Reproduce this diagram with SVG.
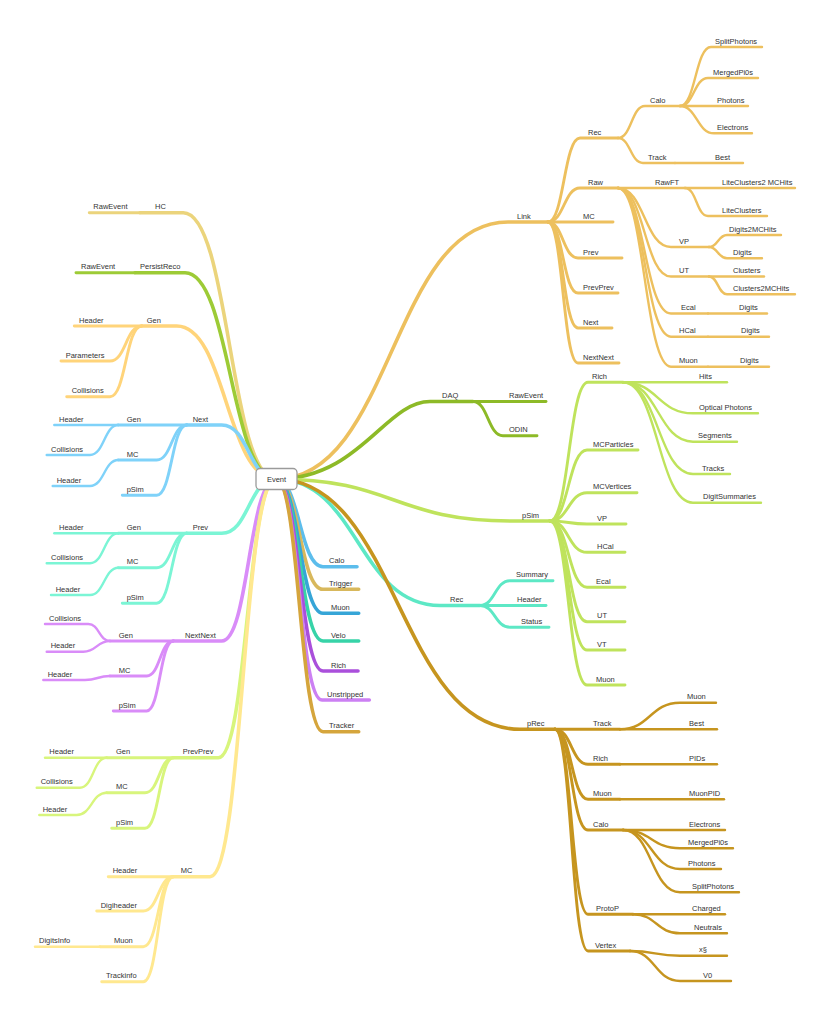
<svg xmlns="http://www.w3.org/2000/svg" width="830" height="1016" viewBox="0 0 830 1016">
<style>
text{font-family:"Liberation Sans",Arial,sans-serif;font-size:7.5px;fill:#333}
#connectors path{fill:none;stroke-linecap:round;stroke-linejoin:round}
.w1{stroke-width:3.6}.w2{stroke-width:2.9}.w3{stroke-width:2.4}
.link{stroke:#EDC05E}.daq{stroke:#8DBA27}.psim{stroke:#BFE35C}.rec{stroke:#5DE8C5}.prec{stroke:#C6951F}
.calo{stroke:#5CBDEC}.trig{stroke:#D8B85C}.muon{stroke:#36A5D7}.velo{stroke:#37D3A8}.rich{stroke:#AA4FDB}.unst{stroke:#CC80F3}.trk{stroke:#D5A53C}
.hc{stroke:#EBD47C}.pr{stroke:#9DCB36}.gen{stroke:#FFD47A}.next{stroke:#7FD2F9}.prev{stroke:#7BF5D5}.nn{stroke:#D98CF8}.pp{stroke:#D8F57C}.mc{stroke:#FFE88F}
</style>
<rect width="830" height="1016" fill="#fff"/>
<g id="connectors">
<g class="link">
<path class="w1" d="M276 479 C392 479 392 222 508 222 H548"/>
<path class="w2" d="M548 222 C564 222 564 138 580 138 H618"/>
<path class="w2" d="M548 222 C564 222 564 188 580 188 H618"/>
<path class="w2" d="M548 222 H613"/>
<path class="w2" d="M548 222 C563 222 563 258 578 258 H622"/>
<path class="w2" d="M548 222 C563 222 563 293 578 293 H618"/>
<path class="w2" d="M548 222 C563 222 563 328 578 328 H612"/>
<path class="w2" d="M548 222 C563 222 563 363 578 363 H619"/>
<path class="w3" d="M618 138 C631.5 138 631.5 106 645 106 H680"/>
<path class="w3" d="M618 138 C630.5 138 630.5 163 643 163 H675"/>
<path class="w3" d="M680 106 C695.5 106 695.5 47 711 47 H762"/>
<path class="w3" d="M680 106 C694 106 694 78 708 78 H758"/>
<path class="w3" d="M680 106 H748"/>
<path class="w3" d="M680 106 C697 106 697 133.3 714 133.3 H752"/>
<path class="w3" d="M675 163 H743"/>
<path class="w3" d="M618 188 H685"/>
<path class="w3" d="M685 188 H795"/>
<path class="w3" d="M685 188 C696.5 188 696.5 216 708 216 H767"/>
<path class="w3" d="M618 188 C644.5 188 644.5 247 671 247 H709"/>
<path class="w3" d="M709 247 C718 247 718 235 727 235 H781"/>
<path class="w3" d="M709 247 C718 247 718 258.3 727 258.3 H762"/>
<path class="w3" d="M618 188 C644.5 188 644.5 276.5 671 276.5 H709"/>
<path class="w3" d="M709 276.5 H764"/>
<path class="w3" d="M709 276.5 C718 276.5 718 294.3 727 294.3 H795"/>
<path class="w3" d="M618 188 C644.5 188 644.5 313.5 671 313.5 H708"/>
<path class="w3" d="M708 313.5 H767"/>
<path class="w3" d="M618 188 C644.5 188 644.5 336.7 671 336.7 H708"/>
<path class="w3" d="M708 336.7 H769"/>
<path class="w3" d="M618 188 C644.5 188 644.5 366.7 671 366.7 H708"/>
<path class="w3" d="M708 366.7 H769"/>
</g>
<g class="daq">
<path class="w1" d="M276 479 C360 479 385 401.5 430 401.5 H473"/>
<path class="w2" d="M473 401.5 H546"/>
<path class="w2" d="M473 401.5 C488 401.5 488 435.7 503 435.7 H537"/>
</g>
<g class="psim">
<path class="w1" d="M276 479 C394 479 394 521 512 521 H550"/>
<path class="w2" d="M550 521 C569 521 569 382.3 588 382.3 H623"/>
<path class="w2" d="M550 521 C568.5 521 568.5 450 587 450 H638"/>
<path class="w2" d="M550 521 C568.5 521 568.5 492.7 587 492.7 H637"/>
<path class="w2" d="M550 521 C568.5 521 568.5 524 587 524 H626"/>
<path class="w2" d="M550 521 C568.5 521 568.5 552.3 587 552.3 H625"/>
<path class="w2" d="M550 521 C568.5 521 568.5 587.3 587 587.3 H625"/>
<path class="w2" d="M550 521 C568.5 521 568.5 621.7 587 621.7 H625"/>
<path class="w2" d="M550 521 C568.5 521 568.5 650 587 650 H625"/>
<path class="w2" d="M550 521 C568.5 521 568.5 685 587 685 H625"/>
<path class="w3" d="M623 382.3 H727"/>
<path class="w3" d="M623 382.3 C658 382.3 658 413.3 693 413.3 H758"/>
<path class="w3" d="M623 382.3 C658 382.3 658 441.7 693 441.7 H737"/>
<path class="w3" d="M623 382.3 C658 382.3 658 474 693 474 H730"/>
<path class="w3" d="M623 382.3 C658 382.3 658 502.7 693 502.7 H761"/>
</g>
<g class="rec">
<path class="w1" d="M276 479 C358 479 358 605.5 440 605.5 H480"/>
<path class="w2" d="M480 605.5 C495 605.5 495 580.7 510 580.7 H553"/>
<path class="w2" d="M480 605.5 H546"/>
<path class="w2" d="M480 605.5 C495 605.5 495 627.3 510 627.3 H549"/>
</g>
<g class="prec">
<path class="w1" d="M276 479 C398 479 398 729.3 520 729.3 H555"/>
<path class="w2" d="M555 729.3 H620"/>
<path class="w2" d="M555 729.3 C571.5 729.3 571.5 764.3 588 764.3 H620"/>
<path class="w2" d="M555 729.3 C571.5 729.3 571.5 799.3 588 799.3 H620"/>
<path class="w2" d="M555 729.3 C571.5 729.3 571.5 830 588 830 H623"/>
<path class="w2" d="M555 729.3 C571.5 729.3 571.5 914.3 588 914.3 H633"/>
<path class="w2" d="M555 729.3 C571.5 729.3 571.5 951 588 951 H630"/>
<path class="w3" d="M620 729.3 C650 729.3 650 702.7 680 702.7 H716"/>
<path class="w3" d="M620 729.3 H717"/>
<path class="w3" d="M620 764.3 H717"/>
<path class="w3" d="M620 799.3 H724"/>
<path class="w3" d="M623 830 H725"/>
<path class="w3" d="M623 830 C651.5 830 651.5 848.3 680 848.3 H733"/>
<path class="w3" d="M623 830 C651.5 830 651.5 869 680 869 H721"/>
<path class="w3" d="M623 830 C651.5 830 651.5 892.3 680 892.3 H739"/>
<path class="w3" d="M633 914.3 H725"/>
<path class="w3" d="M633 914.3 C656.5 914.3 656.5 933.3 680 933.3 H727"/>
<path class="w3" d="M630 951 C655 951 655 955.7 680 955.7 H727"/>
<path class="w3" d="M630 951 C655 951 655 981 680 981 H731"/>
</g>
<path class="w1 calo" d="M276 479 C299.5 479 299.5 566.7 323 566.7 H357"/>
<path class="w1 trig" d="M276 479 C299.5 479 299.5 589.3 323 589.3 H358.7"/>
<path class="w1 muon" d="M276 479 C299.5 479 299.5 613.3 323 613.3 H358.7"/>
<path class="w1 velo" d="M276 479 C299.5 479 299.5 641 323 641 H358.7"/>
<path class="w1 rich" d="M276 479 C299.5 479 299.5 671 323 671 H358"/>
<path class="w1 unst" d="M276 479 C299 479 299 700 322 700 H369.3"/>
<path class="w1 trk" d="M276 479 C299.5 479 299.5 731.7 323 731.7 H358.7"/>
<g class="hc">
<path class="w1" d="M276 479 C229.7 479 229.7 212.7 183.3 212.7 H140"/>
<path class="w2" d="M140 212.7 H89.3"/>
</g>
<g class="pr">
<path class="w1" d="M276 479 C230.5 479 230.5 272.7 185 272.7 H135"/>
<path class="w2" d="M135 272.7 H76"/>
</g>
<g class="gen">
<path class="w1" d="M276 479 C226.3 479 226.3 326 176.7 326 H141.7"/>
<path class="w2" d="M141.7 326 H74.3"/>
<path class="w2" d="M141.7 326 C125.8 326 125.8 361 110 361 H61"/>
<path class="w2" d="M141.7 326 C125.8 326 125.8 396.7 110 396.7 H66.7"/>
</g>
<g class="next">
<path class="w1" d="M276 479 C248.8 479 248.8 425 221.7 425 H186.7"/>
<path class="w2" d="M186.7 425 H118.3"/>
<path class="w3" d="M118.3 425 H54.3"/>
<path class="w3" d="M118.3 425 C104.2 425 104.2 455 90 455 H46.7"/>
<path class="w2" d="M186.7 425 C171.7 425 171.7 460 156.7 460 H118.3"/>
<path class="w3" d="M118.3 460 C104.2 460 104.2 486 90 486 H52.7"/>
<path class="w2" d="M186.7 425 C171.7 425 171.7 495.3 156.7 495.3 H122.3"/>
</g>
<g class="prev">
<path class="w1" d="M276 479 C248.8 479 248.8 533.3 221.7 533.3 H186.7"/>
<path class="w2" d="M186.7 533.3 H118.3"/>
<path class="w3" d="M118.3 533.3 H54.3"/>
<path class="w3" d="M118.3 533.3 C104.2 533.3 104.2 563.3 90 563.3 H46.7"/>
<path class="w2" d="M186.7 533.3 C171.7 533.3 171.7 567.7 156.7 567.7 H118.3"/>
<path class="w3" d="M118.3 567.7 C104.2 567.7 104.2 595 90 595 H51"/>
<path class="w2" d="M186.7 533.3 C171.7 533.3 171.7 603.3 156.7 603.3 H122.3"/>
</g>
<g class="nn">
<path class="w1" d="M276 479 C248.8 479 248.8 641 221.7 641 H173.3"/>
<path class="w2" d="M173.3 641 H110"/>
<path class="w3" d="M110 641 C99.2 641 99.2 624 88.3 624 H45"/>
<path class="w3" d="M110 641 C96.7 641 96.7 651.7 83.3 651.7 H46.7"/>
<path class="w2" d="M173.3 641 C160 641 160 676 146.7 676 H110"/>
<path class="w3" d="M110 676 C97.5 676 97.5 680 85 680 H43.3"/>
<path class="w2" d="M173.3 641 C160 641 160 711 146.7 711 H113.3"/>
</g>
<g class="pp">
<path class="w1" d="M276 479 C247.2 479 247.2 757.7 218.3 757.7 H173.3"/>
<path class="w2" d="M173.3 757.7 H106.7"/>
<path class="w3" d="M106.7 757.7 H45"/>
<path class="w3" d="M106.7 757.7 C93.3 757.7 93.3 787.7 80 787.7 H36.7"/>
<path class="w2" d="M173.3 757.7 C159.2 757.7 159.2 792.7 145 792.7 H106.7"/>
<path class="w3" d="M106.7 792.7 C91.7 792.7 91.7 815 76.7 815 H39.3"/>
<path class="w2" d="M173.3 757.7 C159.2 757.7 159.2 828.3 145 828.3 H111.7"/>
</g>
<g class="mc">
<path class="w1" d="M276 479 C243 479 243 876.7 210 876.7 H173.3"/>
<path class="w2" d="M173.3 876.7 H108.3"/>
<path class="w2" d="M173.3 876.7 C158.3 876.7 158.3 911 143.3 911 H96.7"/>
<path class="w2" d="M173.3 876.7 C158.3 876.7 158.3 946.7 143.3 946.7 H100"/>
<path class="w3" d="M100 946.7 H35"/>
<path class="w2" d="M173.3 876.7 C158.3 876.7 158.3 981.7 143.3 981.7 H101.7"/>
</g>
</g>
<g id="event">
<rect x="256" y="468.5" width="41" height="21" rx="4" fill="#fff" stroke="#9a9a9a" stroke-width="1.3"/>
<text x="276.5" y="482" text-anchor="middle">Event</text>
</g>
<g id="n-link"><text x="517" y="218.5">Link</text></g>
<g id="n-link-rec"><text x="588" y="134.8">Rec</text></g>
<g id="n-link-rec-calo"><text x="650" y="102.5">Calo</text></g>
<g id="n-lrc-splitphotons"><text x="715" y="43.5">SplitPhotons</text></g>
<g id="n-lrc-mergedpi0s"><text x="713" y="74.5">MergedPi0s</text></g>
<g id="n-lrc-photons"><text x="717" y="102.5">Photons</text></g>
<g id="n-lrc-electrons"><text x="717" y="129.8">Electrons</text></g>
<g id="n-link-rec-track"><text x="648" y="159.5">Track</text></g>
<g id="n-lrt-best"><text x="715" y="159.5">Best</text></g>
<g id="n-link-raw"><text x="588" y="184.5">Raw</text></g>
<g id="n-raw-rawft"><text x="655" y="184.5">RawFT</text></g>
<g id="n-rawft-lc2mc"><text x="722" y="184.5">LiteClusters2 MCHits</text></g>
<g id="n-rawft-lc"><text x="722" y="212.5">LiteClusters</text></g>
<g id="n-raw-vp"><text x="679" y="243.5">VP</text></g>
<g id="n-vp-d2mc"><text x="729" y="231.5">Digits2MCHits</text></g>
<g id="n-vp-digits"><text x="733" y="254.8">Digits</text></g>
<g id="n-raw-ut"><text x="679" y="273">UT</text></g>
<g id="n-ut-clusters"><text x="733" y="272.5">Clusters</text></g>
<g id="n-ut-c2mc"><text x="733" y="290.8">Clusters2MCHits</text></g>
<g id="n-raw-ecal"><text x="681" y="310">Ecal</text></g>
<g id="n-ecal-digits"><text x="739" y="310">Digits</text></g>
<g id="n-raw-hcal"><text x="679" y="333.2">HCal</text></g>
<g id="n-hcal-digits"><text x="741" y="333.2">Digits</text></g>
<g id="n-raw-muon"><text x="679" y="363.2">Muon</text></g>
<g id="n-muon-digits"><text x="740" y="363.2">Digits</text></g>
<g id="n-link-mc"><text x="583" y="218.5">MC</text></g>
<g id="n-link-prev"><text x="583" y="254.5">Prev</text></g>
<g id="n-link-prevprev"><text x="583" y="289.5">PrevPrev</text></g>
<g id="n-link-next"><text x="583" y="324.5">Next</text></g>
<g id="n-link-nextnext"><text x="583" y="359.5">NextNext</text></g>
<g id="n-daq"><text x="442" y="398">DAQ</text></g>
<g id="n-daq-rawevent"><text x="509" y="397.5">RawEvent</text></g>
<g id="n-daq-odin"><text x="509" y="432.2">ODIN</text></g>
<g id="n-psim"><text x="522" y="517.5">pSim</text></g>
<g id="n-psim-rich"><text x="592" y="378.8">Rich</text></g>
<g id="n-rich-hits"><text x="699" y="378.8">Hits</text></g>
<g id="n-rich-optical"><text x="699" y="409.8">Optical Photons</text></g>
<g id="n-rich-segments"><text x="698" y="438.2">Segments</text></g>
<g id="n-rich-tracks"><text x="702" y="470.5">Tracks</text></g>
<g id="n-rich-digitsum"><text x="703" y="499.2">DigitSummaries</text></g>
<g id="n-psim-mcparticles"><text x="593" y="446.5">MCParticles</text></g>
<g id="n-psim-mcvertices"><text x="593" y="489.2">MCVertices</text></g>
<g id="n-psim-vp"><text x="597" y="520.5">VP</text></g>
<g id="n-psim-hcal"><text x="597" y="548.8">HCal</text></g>
<g id="n-psim-ecal"><text x="596" y="583.8">Ecal</text></g>
<g id="n-psim-ut"><text x="597" y="618.2">UT</text></g>
<g id="n-psim-vt"><text x="597" y="646.5">VT</text></g>
<g id="n-psim-muon"><text x="596" y="681.5">Muon</text></g>
<g id="n-rec"><text x="450" y="602">Rec</text></g>
<g id="n-rec-summary"><text x="516" y="577.2">Summary</text></g>
<g id="n-rec-header"><text x="517" y="602">Header</text></g>
<g id="n-rec-status"><text x="521" y="623.8">Status</text></g>
<g id="n-prec"><text x="527" y="725.8">pRec</text></g>
<g id="n-prec-track"><text x="593" y="725.8">Track</text></g>
<g id="n-pt-muon"><text x="687" y="699.2">Muon</text></g>
<g id="n-pt-best"><text x="689" y="725.8">Best</text></g>
<g id="n-prec-rich"><text x="593" y="760.8">Rich</text></g>
<g id="n-pr-pids"><text x="689" y="760.8">PIDs</text></g>
<g id="n-prec-muon"><text x="593" y="795.8">Muon</text></g>
<g id="n-pm-muonpid"><text x="689" y="795.8">MuonPID</text></g>
<g id="n-prec-calo"><text x="593" y="826.5">Calo</text></g>
<g id="n-pc-electrons"><text x="689" y="826.5">Electrons</text></g>
<g id="n-pc-mergedpi0s"><text x="688" y="844.8">MergedPi0s</text></g>
<g id="n-pc-photons"><text x="688" y="865.5">Photons</text></g>
<g id="n-pc-splitphotons"><text x="692" y="888.8">SplitPhotons</text></g>
<g id="n-prec-protop"><text x="596" y="910.8">ProtoP</text></g>
<g id="n-pp-charged"><text x="692" y="910.8">Charged</text></g>
<g id="n-pp-neutrals"><text x="694" y="929.8">Neutrals</text></g>
<g id="n-prec-vertex"><text x="595" y="947.5">Vertex</text></g>
<g id="n-pv-xs"><text x="699" y="952.2">x§</text></g>
<g id="n-pv-v0"><text x="703" y="977.5">V0</text></g>
<g id="n-calo"><text x="329" y="563.2">Calo</text></g>
<g id="n-trigger"><text x="329" y="585.8">Trigger</text></g>
<g id="n-muon"><text x="331" y="609.8">Muon</text></g>
<g id="n-velo"><text x="331" y="637.5">Velo</text></g>
<g id="n-rich"><text x="331" y="667.5">Rich</text></g>
<g id="n-unstripped"><text x="327" y="696.5">Unstripped</text></g>
<g id="n-tracker"><text x="329" y="728.2">Tracker</text></g>
<g id="n-hc"><text x="155" y="209.2">HC</text></g>
<g id="n-hc-rawevent"><text x="93.3" y="209.2">RawEvent</text></g>
<g id="n-persistreco"><text x="140" y="269.2">PersistReco</text></g>
<g id="n-pr-rawevent"><text x="81" y="269.2">RawEvent</text></g>
<g id="n-gen"><text x="146.7" y="322.5">Gen</text></g>
<g id="n-gen-header"><text x="79" y="322.5">Header</text></g>
<g id="n-gen-parameters"><text x="65.7" y="357.5">Parameters</text></g>
<g id="n-gen-collisions"><text x="71.7" y="393.2">Collisions</text></g>
<g id="n-next"><text x="192.7" y="421.5">Next</text></g>
<g id="n-next-gen"><text x="126.7" y="421.5">Gen</text></g>
<g id="n-ng-header"><text x="59" y="421.5">Header</text></g>
<g id="n-ng-collisions"><text x="51" y="451.5">Collisions</text></g>
<g id="n-next-mc"><text x="126.7" y="456.5">MC</text></g>
<g id="n-nm-header"><text x="56.7" y="482.5">Header</text></g>
<g id="n-next-psim"><text x="126.7" y="491.8">pSim</text></g>
<g id="n-prev"><text x="192.7" y="529.8">Prev</text></g>
<g id="n-prev-gen"><text x="126.7" y="529.8">Gen</text></g>
<g id="n-pg-header"><text x="59" y="529.8">Header</text></g>
<g id="n-pg-collisions"><text x="51" y="559.8">Collisions</text></g>
<g id="n-prev-mc"><text x="126.7" y="564.2">MC</text></g>
<g id="n-pm-header"><text x="55.7" y="591.5">Header</text></g>
<g id="n-prev-psim"><text x="126.7" y="599.8">pSim</text></g>
<g id="n-nextnext"><text x="185" y="637.5">NextNext</text></g>
<g id="n-nn-gen"><text x="118.7" y="637.5">Gen</text></g>
<g id="n-nng-collisions"><text x="49" y="620.5">Collisions</text></g>
<g id="n-nng-header"><text x="50.7" y="648.2">Header</text></g>
<g id="n-nn-mc"><text x="118.7" y="672.5">MC</text></g>
<g id="n-nnm-header"><text x="47.7" y="676.5">Header</text></g>
<g id="n-nn-psim"><text x="118.7" y="707.5">pSim</text></g>
<g id="n-prevprev"><text x="182.7" y="754.2">PrevPrev</text></g>
<g id="n-pp-gen"><text x="116" y="754.2">Gen</text></g>
<g id="n-ppg-header"><text x="49.3" y="753.8">Header</text></g>
<g id="n-ppg-collisions"><text x="40.7" y="784.2">Collisions</text></g>
<g id="n-pp-mc"><text x="116" y="789.2">MC</text></g>
<g id="n-ppm-header"><text x="42.7" y="811.5">Header</text></g>
<g id="n-pp-psim"><text x="116" y="824.8">pSim</text></g>
<g id="n-mc"><text x="180.7" y="873.2">MC</text></g>
<g id="n-mc-header"><text x="112.7" y="873.2">Header</text></g>
<g id="n-mc-digiheader"><text x="100.7" y="907.5">Digiheader</text></g>
<g id="n-mc-muon"><text x="114" y="943.2">Muon</text></g>
<g id="n-mcm-digitsinfo"><text x="39" y="943.2">DigitsInfo</text></g>
<g id="n-mc-trackinfo"><text x="106" y="978.2">Trackinfo</text></g>
</svg>
